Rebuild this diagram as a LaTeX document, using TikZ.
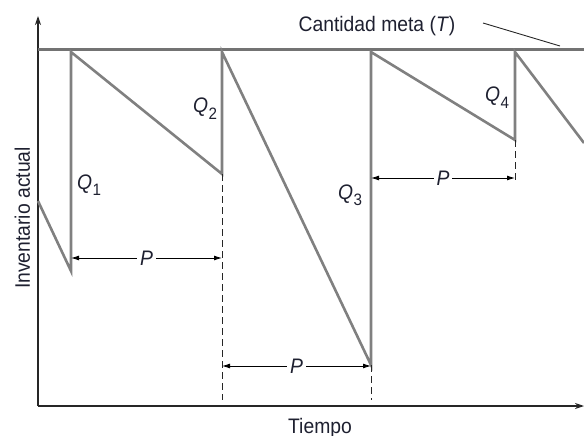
\documentclass[tikz,border=0pt]{standalone}
\usepackage{fontspec}
\setmainfont[FakeStretch=0.92]{Liberation Sans}
\usetikzlibrary{arrows.meta}
\definecolor{txt}{RGB}{30,32,48}
\definecolor{saw}{RGB}{128,128,128}
\newcommand\Qlab[1]{\textit{Q}\kern0.3pt\raisebox{-6pt}{\fontsize{16.5}{16.5}\selectfont #1}}
\tikzset{
  sawline/.style={draw=saw,line width=2.6pt,line join=miter},
  targetline/.style={draw=saw!90!black,line width=3pt},
  axisline/.style={draw=black!85,line width=1.1pt,-{Stealth[length=9pt,width=6pt]}},
  perarrow/.style={draw=black,line width=0.9pt,{Latex[length=8pt,width=5pt]}-{Latex[length=8pt,width=5pt]}},
  dashline/.style={draw=black!85,line width=0.9pt,dash pattern=on 7pt off 4pt},
  lab/.style={text=txt,font=\fontsize{21}{24}\selectfont,inner sep=0pt},
  plab/.style={lab,fill=white,inner xsep=3pt,inner ysep=1pt},
}
\begin{document}
\begin{tikzpicture}[x=1pt,y=-1pt]
\useasboundingbox (0,0) rectangle (584,436);
% axes
\coordinate (o) at (38,406);
\coordinate (ytop) at (38,16);
\coordinate (xend) at (584,406);
\draw[axisline] (o) -- (ytop);
\draw[axisline] (o) -- (xend);
% target
\coordinate (t0) at (38,50);
\coordinate (t1) at (584,50);
\draw[targetline] (t0) -- (t1);
% sawtooth
\coordinate (s0) at (38,201);
\coordinate (b1) at (71,271);
\coordinate (p1) at (71,52);
\coordinate (b2) at (222,174);
\coordinate (p2) at (222,52);
\coordinate (b3) at (371,365);
\coordinate (p3) at (371,52);
\coordinate (b4) at (515,140);
\coordinate (p4) at (515,52);
\coordinate (s5) at (584,143);
\draw[sawline] (s0) -- (b1) -- (p1) -- (b2) -- (p2) -- (b3) -- (p3) -- (b4) -- (p4) -- (s5);
% dashed
\coordinate (d2) at (222,400);
\coordinate (d3) at (371,400);
\coordinate (d4) at (515,183);
\draw[dashline] (b2) -- (d2);
\draw[dashline] (b3) -- (d3);
\draw[dashline] (b4) -- (d4);
% P arrows
\coordinate (a1l) at (71,258);  \coordinate (a1r) at (222,258);
\coordinate (a2l) at (222,366); \coordinate (a2r) at (371,366);
\coordinate (a3l) at (371,178); \coordinate (a3r) at (515,178);
\draw[perarrow] (a1l) -- node[plab] (P1) {\textit{P}} (a1r);
\draw[perarrow] (a2l) -- node[plab] (P2) {\textit{P}} (a2r);
\draw[perarrow] (a3l) -- node[plab] (P3) {\textit{P}} (a3r);
% Q labels
\node[lab,anchor=base west] (Q1) at (77,189) {\Qlab{1}};
\node[lab,anchor=base west] (Q2) at (193,113) {\Qlab{2}};
\node[lab,anchor=base west] (Q3) at (338,199) {\Qlab{3}};
\node[lab,anchor=base west] (Q4) at (485,102) {\Qlab{4}};
% titles
\node[lab,anchor=base] (T) at (377,32) {Cantidad meta (\textit{T})};
\coordinate (pt0) at (483,23);
\coordinate (pt1) at (560,46);
\draw[black!85,line width=0.9pt] (pt0) -- (pt1);
\node[lab,anchor=base] (tiempo) at (320,433) {Tiempo};
\node[lab,rotate=90,anchor=base] (inv) at (30,218) {Inventario actual};
\end{tikzpicture}
\end{document}
